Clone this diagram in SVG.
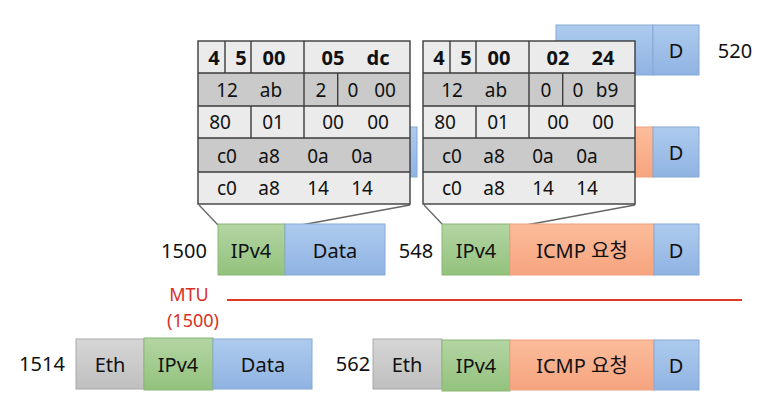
<svg xmlns="http://www.w3.org/2000/svg" width="775" height="410" viewBox="0 0 775 410">
<defs>
<linearGradient id="gBlue" x1="0" y1="0" x2="0" y2="1"><stop offset="0" stop-color="#aecbee"/><stop offset="1" stop-color="#8fb3e2"/></linearGradient>
<linearGradient id="gGreen" x1="0" y1="0" x2="0" y2="1"><stop offset="0" stop-color="#b3d5a3"/><stop offset="1" stop-color="#93c27d"/></linearGradient>
<linearGradient id="gSalmon" x1="0" y1="0" x2="0" y2="1"><stop offset="0" stop-color="#fcbc9a"/><stop offset="1" stop-color="#f6a47f"/></linearGradient>
<linearGradient id="gGray" x1="0" y1="0" x2="0" y2="1"><stop offset="0" stop-color="#d6d6d6"/><stop offset="1" stop-color="#bfbfbf"/></linearGradient>
</defs>
<style>
text{font-family:"Noto Sans","Noto Sans CJK KR",sans-serif;font-size:20px;fill:#111;text-anchor:middle;dominant-baseline:central}
.blue{fill:url(#gBlue);stroke:#86a9d6;stroke-width:1}
.green{fill:url(#gGreen);stroke:#8ab777;stroke-width:1}
.salmon{fill:url(#gSalmon);stroke:#eda07e;stroke-width:1}
.gray{fill:url(#gGray);stroke:#a9a9a9;stroke-width:1}
.lt{fill:#ebebeb}
.dk{fill:#cacaca}
.grid{stroke:#3c3c3c;stroke-width:1.4;fill:none}
.t{font-size:19px}
.b{font-weight:bold;font-size:20px}
.red{fill:#d9301f;font-size:18px}
.call{stroke:#666;stroke-width:1.3;fill:none}
</style>
<g id="hidden-rows">
<rect class="blue" x="556" y="25" width="97" height="50"/>
<rect class="blue" x="653" y="25" width="46" height="50"/>
<text x="676" y="50">D</text>
<text x="735" y="50">520</text>
<rect class="blue" x="300" y="127" width="117" height="50"/>
<rect class="salmon" x="520" y="127" width="133" height="50"/>
<rect class="blue" x="653" y="127" width="46" height="50"/>
<text x="676" y="152">D</text>
</g>
<g id="connectors">
<line class="call" x1="199" y1="205" x2="218" y2="225"/>
<line class="call" x1="410" y1="205" x2="285" y2="228"/>
<line class="call" x1="424" y1="205" x2="443" y2="225"/>
<line class="call" x1="635" y1="205" x2="510" y2="228"/>
<line x1="227" y1="300" x2="742" y2="300" stroke="#e03a26" stroke-width="2"/>
</g>
<g id="header-left">
<rect class="lt" x="198" y="41" width="212" height="32"/>
<rect class="dk" x="198" y="73" width="212" height="33"/>
<rect class="lt" x="198" y="106" width="212" height="32"/>
<rect class="dk" x="198" y="138" width="212" height="34"/>
<rect class="lt" x="198" y="172" width="212" height="32"/>
<rect class="grid" x="198" y="41" width="212" height="163"/>
<path class="grid" d="M198 73H410M198 106H410M198 138H410M198 172H410M225 41V73M251 41V73M304 41V138M337.7 73V106M251 106V138"/>
<text class="b" x="214" y="57">4</text><text class="b" x="241" y="57">5</text><text class="b" x="274" y="57">00</text><text class="b" x="333" y="57">05</text><text class="b" x="378" y="57">dc</text>
<text class="t" x="227" y="90">12</text><text class="t" x="271" y="90">ab</text><text class="t" x="321" y="90">2</text><text class="t" x="353" y="90">0</text><text class="t" x="385" y="90">00</text>
<text class="t" x="220" y="122">80</text><text class="t" x="273" y="122">01</text><text class="t" x="333" y="122">00</text><text class="t" x="378" y="122">00</text>
<text class="t" x="227" y="156">c0</text><text class="t" x="269" y="156">a8</text><text class="t" x="318" y="156">0a</text><text class="t" x="362" y="156">0a</text>
<text class="t" x="227" y="188">c0</text><text class="t" x="269" y="188">a8</text><text class="t" x="318" y="188">14</text><text class="t" x="362" y="188">14</text>
</g>
<g id="header-right">
<rect class="lt" x="423" y="41" width="212" height="32"/>
<rect class="dk" x="423" y="73" width="212" height="33"/>
<rect class="lt" x="423" y="106" width="212" height="32"/>
<rect class="dk" x="423" y="138" width="212" height="34"/>
<rect class="lt" x="423" y="172" width="212" height="32"/>
<rect class="grid" x="423" y="41" width="212" height="163"/>
<path class="grid" d="M423 73H635M423 106H635M423 138H635M423 172H635M450 41V73M476 41V73M529 41V138M562.7 73V106M476 106V138"/>
<text class="b" x="439" y="57">4</text><text class="b" x="466" y="57">5</text><text class="b" x="499" y="57">00</text><text class="b" x="558" y="57">02</text><text class="b" x="603" y="57">24</text>
<text class="t" x="452" y="90">12</text><text class="t" x="496" y="90">ab</text><text class="t" x="546" y="90">0</text><text class="t" x="578" y="90">0</text><text class="t" x="607" y="90">b9</text>
<text class="t" x="445" y="122">80</text><text class="t" x="498" y="122">01</text><text class="t" x="558" y="122">00</text><text class="t" x="603" y="122">00</text>
<text class="t" x="452" y="156">c0</text><text class="t" x="494" y="156">a8</text><text class="t" x="543" y="156">0a</text><text class="t" x="587" y="156">0a</text>
<text class="t" x="452" y="188">c0</text><text class="t" x="494" y="188">a8</text><text class="t" x="543" y="188">14</text><text class="t" x="587" y="188">14</text>
</g>
<g id="packet-1500">
<text x="184" y="250">1500</text>
<rect class="green" x="218" y="224" width="67" height="51"/>
<text x="251" y="250">IPv4</text>
<rect class="blue" x="285" y="224" width="100" height="51"/>
<text x="335" y="250">Data</text>
</g>
<g id="packet-548">
<text x="416" y="250">548</text>
<rect class="green" x="442" y="224" width="68" height="51"/>
<text x="476" y="250">IPv4</text>
<rect class="salmon" x="510" y="224" width="144" height="51"/>
<text x="582" y="250">ICMP 요청</text>
<rect class="blue" x="654" y="224" width="45" height="51"/>
<text x="676" y="250">D</text>
</g>
<g id="mtu">
<text class="red" x="189" y="294">MTU</text>
<text class="red" x="193" y="320">(1500)</text>
</g>
<g id="frame-1514">
<text x="42" y="363">1514</text>
<rect class="gray" x="76" y="339" width="68" height="50"/>
<text x="110" y="364">Eth</text>
<rect class="green" x="144" y="338" width="69" height="52"/>
<text x="178" y="364">IPv4</text>
<rect class="blue" x="213" y="339" width="99" height="50"/>
<text x="263" y="364">Data</text>
</g>
<g id="frame-562">
<text x="353" y="363">562</text>
<rect class="gray" x="373" y="339" width="69" height="50"/>
<text x="407" y="364">Eth</text>
<rect class="green" x="442" y="340" width="68" height="51"/>
<text x="476" y="365">IPv4</text>
<rect class="salmon" x="510" y="340" width="144" height="50"/>
<text x="582" y="365">ICMP 요청</text>
<rect class="blue" x="654" y="340" width="45" height="50"/>
<text x="676" y="365">D</text>
</g>
</svg>
